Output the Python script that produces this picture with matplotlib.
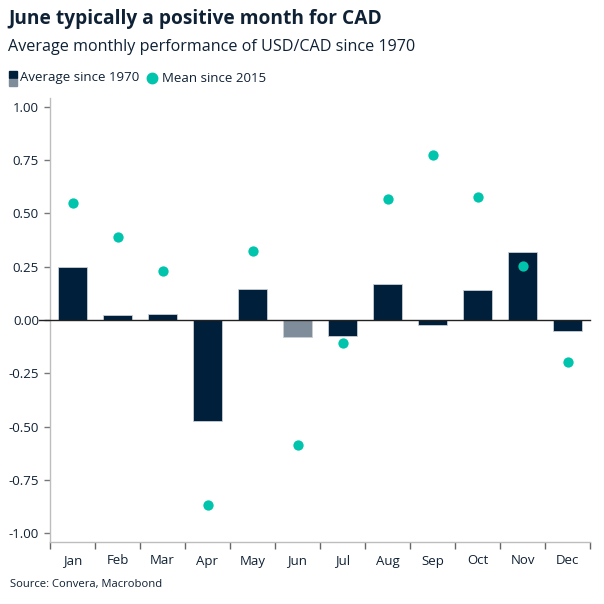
import numpy as np
import matplotlib
matplotlib.use("Agg")
import matplotlib.pyplot as plt
from matplotlib.patches import Rectangle
from matplotlib.lines import Line2D

# data
months = ['Jan', 'Feb', 'Mar', 'Apr', 'May', 'Jun',
          'Jul', 'Aug', 'Sep', 'Oct', 'Nov', 'Dec']
avg_since_1970 = [0.25, 0.025, 0.03, -0.475, 0.145, -0.08,
                  -0.075, 0.17, -0.025, 0.14, 0.32, -0.05]
mean_since_2015 = [0.55, 0.39, 0.23, -0.87, 0.325, -0.585,
                   -0.11, 0.57, 0.775, 0.575, 0.255, -0.195]
yticks = [1.0, 0.75, 0.5, 0.25, 0.0, -0.25, -0.5, -0.75, -1.0]

navy = '#001f3a'
grey = '#7f8c99'
teal = '#00c4ab'
text_col = '#0f2135'
axis_col = '#bdbdbd'

plt.rcParams['font.family'] = ['Open Sans', 'DejaVu Sans']

fig = plt.figure(figsize=(6.04, 6.04), dpi=100)
ax = fig.add_axes([50 / 604, 62 / 604, 540 / 604, 444 / 604])

x = np.arange(len(months))
colors = [grey if m == 'Jun' else navy for m in months]
ax.bar(x, avg_since_1970, width=0.63, color=colors,
       edgecolor='#c9ced4', linewidth=0.6, zorder=2)
ax.scatter(x, mean_since_2015, s=55, color=teal, zorder=3, linewidths=0)

# zero line, running a little left of the spine like the reference
ax.axhline(0, xmin=-0.02, xmax=1, color='#222222', linewidth=1.0,
           zorder=4, clip_on=False)

ax.set_xlim(-0.5, len(months) - 0.5)
ax.set_ylim(-1.042, 1.042)
ax.set_yticks(yticks)
ax.set_yticklabels([f'{v:.2f}' for v in yticks])
ax.set_xticks(x)
ax.set_xticklabels(months)
ax.set_xticks(np.arange(-0.5, len(months)), minor=True)
ax.tick_params(axis='x', which='major', length=0, pad=9,
               labelsize=9.5, labelcolor=text_col)
ax.tick_params(axis='x', which='minor', length=5, color='#666666', width=1)
ax.tick_params(axis='y', length=4, color='#777777', width=1, pad=4,
               labelsize=9.5, labelcolor=text_col)

for side in ['top', 'right']:
    ax.spines[side].set_visible(False)
for side in ['left', 'bottom']:
    ax.spines[side].set_color(axis_col)
    ax.spines[side].set_linewidth(1)

# titles
fig.text(8 / 604, 1 - 19 / 604, 'June typically a positive month for CAD',
         fontsize=13.8, fontweight='bold', color=text_col, va='center')
fig.text(8 / 604, 1 - 47 / 604, 'Average monthly performance of USD/CAD since 1970',
         fontsize=11.6, color=text_col, va='center')

# legend
fig.patches.append(Rectangle((9 / 604, 1 - 78 / 604), 8 / 604, 7 / 604,
                             transform=fig.transFigure, color=navy))
fig.patches.append(Rectangle((9 / 604, 1 - 86 / 604), 8 / 604, 7 / 604,
                             transform=fig.transFigure, color=grey))
fig.text(20 / 604, 1 - 78 / 604, 'Average since 1970', fontsize=9.5,
         color=text_col, va='center')
fig.lines.append(Line2D([152 / 604], [1 - 78 / 604], transform=fig.transFigure,
                        marker='o', markersize=7.5, color=teal, linestyle='none'))
fig.text(162 / 604, 1 - 78 / 604, 'Mean since 2015', fontsize=9.5,
         color=text_col, va='center')

fig.text(10 / 604, 1 - 584 / 604, 'Source: Convera, Macrobond', fontsize=8.1,
         color=text_col, va='center')

fig.savefig('out.png', dpi=100)
